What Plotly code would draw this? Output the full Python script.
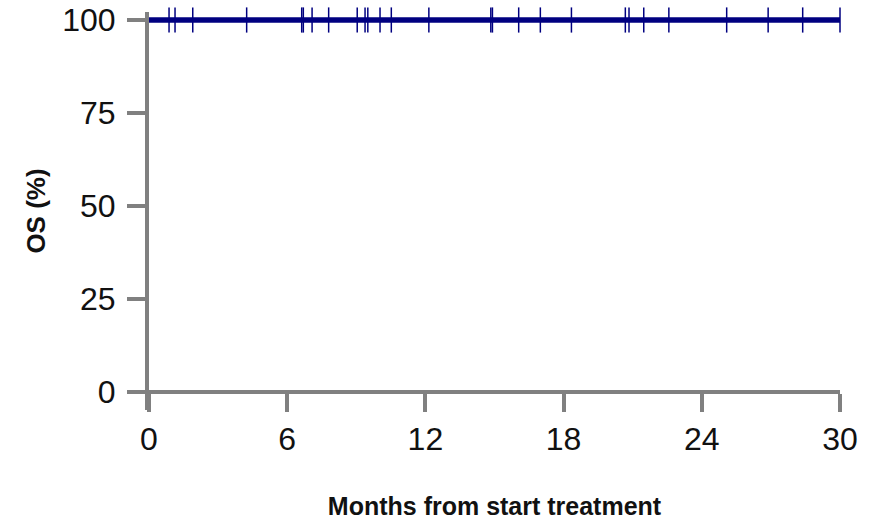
import plotly.graph_objects as go

# Kaplan-Meier curve (all patients alive)
curve_months = [0, 30]
curve_os = [100, 100]

# censored observations (months)
censor_months = [0.87, 1.13, 1.90, 4.24, 6.63, 6.70, 7.08, 7.80, 9.04, 9.38, 9.50,
                 10.03, 10.52, 12.15, 14.84, 14.91, 16.05, 16.99, 18.34, 20.68,
                 20.84, 21.48, 22.57, 25.08, 26.88, 28.38, 30.0]
censor_os = [100] * len(censor_months)

x_ticks = [0, 6, 12, 18, 24, 30]
y_ticks = [0, 25, 50, 75, 100]

NAVY = "#000080"
GREY = "#808080"
FONT = "Liberation Sans, Arial, sans-serif"

fig = go.Figure()
fig.add_trace(go.Scatter(x=curve_months, y=curve_os, mode="lines",
                         line=dict(color=NAVY, width=5.5, shape="hv"),
                         showlegend=False, cliponaxis=False))
fig.add_trace(go.Scatter(x=censor_months, y=censor_os, mode="markers",
                         marker=dict(symbol="line-ns", size=18,
                                     line=dict(color=NAVY, width=1.5)),
                         showlegend=False, cliponaxis=False))

ymin, ymax = -4.84, 102.15
xpos = (0 - ymin) / (ymax - ymin)

fig.update_layout(
    width=869, height=520,
    margin=dict(l=149, r=29, t=12, b=110),
    plot_bgcolor="white", paper_bgcolor="white",
    font=dict(family=FONT, color="#111111"),
    xaxis=dict(range=[0, 30], tickvals=x_ticks, showgrid=False, zeroline=False,
               showline=True, linecolor=GREY, linewidth=4, automargin=False,
               ticks="outside", ticklen=18, tickwidth=4, tickcolor=GREY,
               tickfont=dict(size=32, family=FONT, color="#111111"),
               anchor="free", position=xpos,
               title=dict(text="<b>Months from start treatment</b>",
                          font=dict(size=25, family=FONT, color="#111111"),
                          standoff=40)),
    yaxis=dict(range=[ymin, ymax], tickvals=y_ticks, showgrid=False, zeroline=False,
               showline=True, linecolor=GREY, linewidth=4, automargin=False,
               ticks="outside", ticklen=18, tickwidth=4, tickcolor=GREY,
               ticklabelstandoff=5,
               tickfont=dict(size=32, family=FONT, color="#111111"),
               title=dict(text="<b>OS (%)</b>",
                          font=dict(size=26, family=FONT, color="#111111"),
                          standoff=10)),
)

fig.write_html("out.html")
